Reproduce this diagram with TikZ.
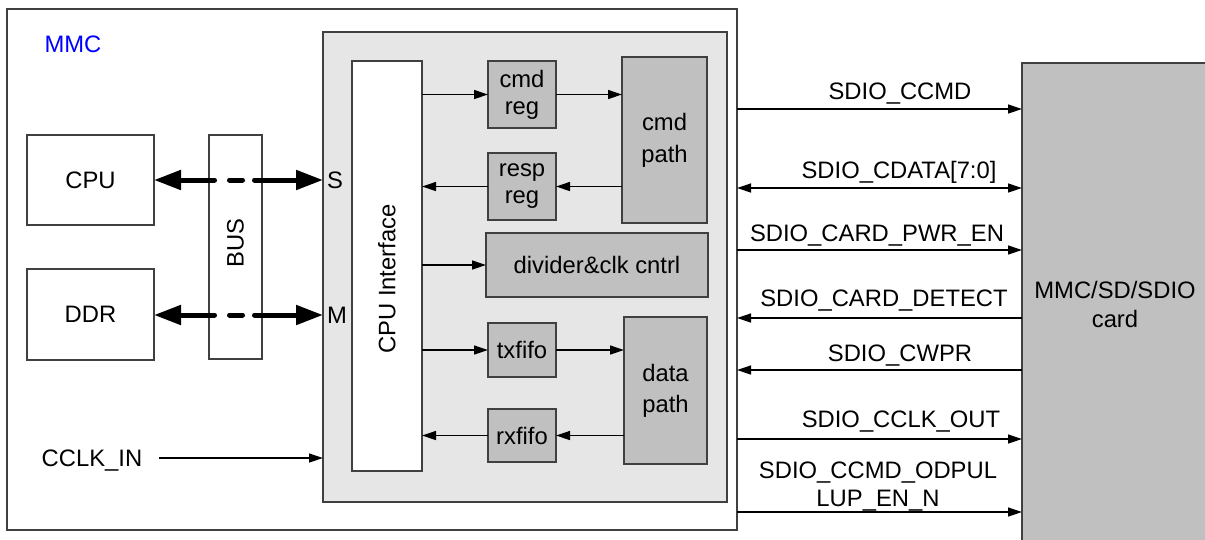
\documentclass[tikz,border=0pt]{standalone}
\usepackage{fontspec}
\setmainfont{Liberation Sans}
\usetikzlibrary{arrows.meta,calc}
\definecolor{linegray}{HTML}{404040}
\definecolor{contfill}{HTML}{E6E6E6}
\definecolor{boxfill}{HTML}{C0C0C0}
\definecolor{mmcblue}{HTML}{0000FF}
\begin{document}
\begin{tikzpicture}[x=1pt,y=-1pt,
  font=\fontsize{23.8}{27}\selectfont,
  blk/.style={draw=linegray, line width=1.3pt, inner sep=0pt, outer sep=0pt, align=center},
  gbox/.style={blk, fill=boxfill},
  sig/.style={draw=black, line width=1.3pt, -{Triangle[length=14pt,width=9pt]}},
  sigb/.style={draw=black, line width=1.3pt, {Triangle[length=14pt,width=9pt]}-{Triangle[length=14pt,width=9pt]}},
  busline/.style={draw=black, line width=5pt, line cap=round},
  lbl/.style={anchor=base, inner sep=0pt}
]
\useasboundingbox (0,0) rectangle (1205,539);

% outer MMC box
\node[blk, minimum width=730, minimum height=521] (mmc) at (372,269.5) {};
\node[text=mmcblue, inner sep=0pt] (mmclbl) at (73,44) {MMC};

% CPU, DDR, BUS
\node[blk, minimum width=127, minimum height=90] (cpu) at (90.5,180) {CPU};
\node[blk, minimum width=127, minimum height=91] (ddr) at (90.5,314.5) {DDR};
\node[blk, minimum width=53, minimum height=224] (bus) at (235.5,247) {};
\node[rotate=90, inner sep=0pt] (buslbl) at (235.5,243) {BUS};

% gray container
\node[blk, fill=contfill, minimum width=404, minimum height=470] (cont) at (525,267) {};
\node[inner sep=0pt] (slbl) at (335,180) {S};
\node[inner sep=0pt] (mlbl) at (337,315) {M};

% CPU interface
\node[blk, fill=white, minimum width=70, minimum height=410] (cif) at (387,266) {};
\node[rotate=90, inner sep=0pt] (ciflbl) at (387,279) {CPU Interface};

% inner blocks
\node[gbox, minimum width=68, minimum height=67] (cmdreg) at (522,94.5) {cmd\\reg};
\node[gbox, minimum width=85, minimum height=166, font=\fontsize{23.8}{32}\selectfont] (cmdpath) at (664.5,140) {cmd\\path};
\node[gbox, minimum width=68, minimum height=67] (respreg) at (522,186.5) {resp\\reg};
\node[gbox, minimum width=222, minimum height=64] (div) at (597,265) {divider\&clk cntrl};
\node[gbox, minimum width=68, minimum height=54] (tx) at (522,350) {txfifo};
\node[gbox, minimum width=68, minimum height=53] (rx) at (522,435.5) {rxfifo};
\node[gbox, minimum width=83, minimum height=147, font=\fontsize{23.8}{31}\selectfont] (datapath) at (665.5,390.5) {data\\path};

% card
\node[gbox, minimum width=186, minimum height=482, font=\fontsize{23.8}{29}\selectfont] (card) at (1115,304) {MMC/SD/SDIO\\card};

% bus arrows
\coordinate (c1) at (214.5,180);
\coordinate (c2) at (229.5,180);
\coordinate (c3) at (242.5,180);
\coordinate (c4) at (254.5,180);
\draw[busline, {Triangle[length=27pt,width=19pt]}-] (cpu.east) -- (c1);
\draw[busline] (c2) -- (c3);
\draw[busline, -{Triangle[length=27pt,width=19pt]}] (c4) -- (cont.west |- cpu.east);

\coordinate (d1) at (214.5,315);
\coordinate (d2) at (229.5,315);
\coordinate (d3) at (242.5,315);
\coordinate (d4) at (254.5,315);
\draw[busline, {Triangle[length=27pt,width=19pt]}-] (ddr.east |- d1) -- (d1);
\draw[busline] (d2) -- (d3);
\draw[busline, -{Triangle[length=27pt,width=19pt]}] (d4) -- (cont.west |- d4);

% CCLK_IN
\node[lbl] (cclk) at (92,466) {CCLK\_IN};
\coordinate (cclks) at (159,458);
\draw[sig] (cclks) -- (cont.west |- cclks);

% internal arrows
\draw[sig] (cif.east |- cmdreg.west) -- (cmdreg.west);
\draw[sig] (cmdreg.east) -- (cmdpath.west |- cmdreg.east);
\draw[sig] (cmdpath.west |- respreg.east) -- (respreg.east);
\draw[sig] (respreg.west) -- (cif.east |- respreg.west);
\draw[sig] (cif.east |- div.west) -- (div.west);
\draw[sig] (cif.east |- tx.west) -- (tx.west);
\draw[sig] (tx.east) -- (datapath.west |- tx.east);
\draw[sig] (datapath.west |- rx.east) -- (rx.east);
\draw[sig] (rx.west) -- (cif.east |- rx.west);

% external signals
\coordinate (s1) at (737,109);
\coordinate (s2) at (737,188);
\coordinate (s3) at (737,250);
\coordinate (s4) at (737,318);
\coordinate (s5) at (737,370);
\coordinate (s6) at (737,439);
\coordinate (s7) at (737,512);
\draw[sig] (s1) -- (card.west |- s1);
\draw[sigb] (s2) -- (card.west |- s2);
\draw[sig] (s3) -- (card.west |- s3);
\draw[sig] (card.west |- s4) -- (s4);
\draw[sig] (card.west |- s5) -- (s5);
\draw[sig] (s6) -- (card.west |- s6);
\draw[sig] (s7) -- (card.west |- s7);

\node[lbl] (l1) at (900,99) {SDIO\_CCMD};
\node[lbl] (l2) at (899,178) {SDIO\_CDATA[7:0]};
\node[lbl] (l3) at (877,241.5) {SDIO\_CARD\_PWR\_EN};
\node[lbl] (l4) at (884,306.5) {SDIO\_CARD\_DETECT};
\node[lbl] (l5) at (900,361) {SDIO\_CWPR};
\node[lbl] (l6) at (901,427.5) {SDIO\_CCLK\_OUT};
\node[lbl] (l7a) at (878,478) {SDIO\_CCMD\_ODPUL};
\node[lbl] (l7b) at (878,506) {LUP\_EN\_N};
\end{tikzpicture}
\end{document}
